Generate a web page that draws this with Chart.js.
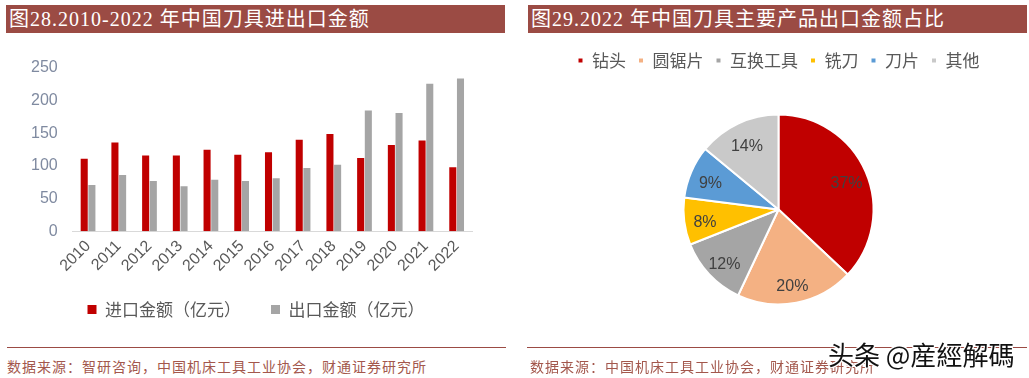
<!DOCTYPE html>
<html>
<head>
<meta charset="utf-8">
<script src="https://cdn.jsdelivr.net/npm/chart.js@4.4.0/dist/chart.umd.min.js"></script>
<style>
    body { margin: 0; background: #fff; width: 1029px; height: 378px; overflow: hidden; position: relative; }
    .title {
        position: absolute; top: 5px; height: 28px; line-height: 28px;
        background: #9B4B44; color: #fff; padding-left: 3px;
        font-family: "Liberation Serif", "Noto Sans CJK SC", serif; font-size: 20px; letter-spacing: 1px;
        box-sizing: border-box; white-space: nowrap;
    }
    .rule { position: absolute; top: 347px; height: 1px; background: #9B4B44; }
    .source {
        position: absolute; top: 356px; font-size: 14px; letter-spacing: 1px; color: #A3574C;
        font-family: "Noto Sans CJK SC", sans-serif; white-space: nowrap;
    }
    canvas { position: absolute; }
    .mark {
        position: absolute; left: 828px; top: 335px; font-size: 26px; color: #111;
        font-family: "Noto Sans CJK TC", "Noto Sans CJK SC", sans-serif; white-space: nowrap;
        text-shadow: -1px -1px 0 #fff, 1px -1px 0 #fff, -1px 1px 0 #fff, 1px 1px 0 #fff;
    }
</style>
</head>
<body>
<div class="title" style="left:6px; width:499px;">图28.2010-2022 年中国刀具进出口金额</div>
<div class="title" style="left:528px; width:499px;">图29.2022 年中国刀具主要产品出口金额占比</div>
<canvas id="bar" width="510" height="310" style="left:0; top:36px;"></canvas>
<canvas id="pie" width="509" height="310" style="left:520px; top:36px;"></canvas>
<div class="rule" style="left:7px; width:499px;"></div>
<div class="rule" style="left:527px; width:500px;"></div>
<div class="source" style="left:7px;">数据来源：智研咨询，中国机床工具工业协会，财通证券研究所</div>
<div class="source" style="left:530px;">数据来源：中国机床工具工业协会，财通证券研究所</div>
<div class="mark">头条 @産經解碼</div>

<script>
// left chart: import / export value, 亿元
const years = ['2010', '2011', '2012', '2013', '2014', '2015', '2016', '2017', '2018', '2019', '2020', '2021', '2022'];
const importValues = [111, 136, 116, 116, 125, 117, 121, 140, 149, 112, 132, 139, 98];
const exportValues = [71, 86, 77, 69, 79, 77, 81, 97, 102, 185, 181, 226, 234];
const yTicks = [0, 50, 100, 150, 200, 250];

// right chart: 2022 export share by product
const products = ['钻头', '圆锯片', '互换工具', '铣刀', '刀片', '其他'];
const shares = [37, 20, 12, 8, 9, 14];
const pieColors = ['#C00000', '#F4B183', '#A5A5A5', '#FFC000', '#5B9BD5', '#C9C9C9'];

const latin = '"Liberation Sans", Arial, sans-serif';
const cjk = '"Noto Sans CJK SC", sans-serif';

// wide item gap also makes the legend tall; pull it back up and a bit right
const nudgeLegend = {
    id: 'nudgeLegend',
    afterLayout(chart) {
        const lg = chart.legend;
        lg.left += 12;
        lg.right += 12;
        lg.top -= 10;
        lg.bottom -= 10;
    }
};

new Chart(document.getElementById('bar'), {
    type: 'bar',
    data: {
        labels: years,
        datasets: [
            { label: '进口金额（亿元）', data: importValues, backgroundColor: '#C00000' },
            { label: '出口金额（亿元）', data: exportValues, backgroundColor: '#A5A5A5' }
        ]
    },
    options: {
        responsive: false,
        animation: false,
        categoryPercentage: 0.5,
        barPercentage: 0.92,
        layout: { padding: { top: 32, left: 16, right: 38, bottom: 8 } },
        plugins: {
            tooltip: { enabled: false },
            legend: {
                position: 'bottom',
                labels: { boxWidth: 9, boxHeight: 9, padding: 30, color: '#595959', font: { family: cjk, size: 17 } }
            }
        },
        scales: {
            x: {
                grid: { display: false, drawTicks: false },
                border: { color: '#D9D9D9', width: 1 },
                ticks: { maxRotation: 45, minRotation: 45, autoSkip: false, padding: 5.5, color: '#595959', font: { family: latin, size: 16 } }
            },
            y: {
                min: 0, max: 250,
                afterBuildTicks: (axis) => { axis.ticks = yTicks.map(v => ({ value: v })); },
                grid: { display: false, drawTicks: false },
                border: { display: false },
                ticks: { padding: 15, color: '#7F8AA0', font: { family: latin, size: 16 } }
            }
        }
    },
    plugins: [nudgeLegend]
});

const pieLabels = {
    id: 'pieLabels',
    afterDatasetsDraw(chart) {
        const ctx = chart.ctx;
        const meta = chart.getDatasetMeta(0);
        ctx.save();
        ctx.font = '16px ' + latin;
        ctx.fillStyle = '#404040';
        ctx.textAlign = 'center';
        ctx.textBaseline = 'middle';
        meta.data.forEach((arc, i) => {
            const { x, y, startAngle, endAngle, outerRadius } = arc.getProps(['x', 'y', 'startAngle', 'endAngle', 'outerRadius'], true);
            const mid = (startAngle + endAngle) / 2;
            const r = outerRadius * 0.78;
            ctx.fillText(shares[i] + '%', x + Math.cos(mid) * r, y + Math.sin(mid) * r + 4);
        });
        ctx.restore();
    }
};

new Chart(document.getElementById('pie'), {
    type: 'pie',
    data: {
        labels: products,
        datasets: [{ data: shares, backgroundColor: pieColors, borderColor: '#fff', borderWidth: 2 }]
    },
    options: {
        responsive: false,
        animation: false,
        radius: 95,
        layout: { padding: { top: 4, left: 8, right: 0, bottom: 6 } },
        plugins: {
            tooltip: { enabled: false },
            legend: {
                position: 'top',
                labels: { boxWidth: 6, boxHeight: 6, padding: 12, color: '#595959', font: { family: cjk, size: 17 } }
            }
        }
    },
    plugins: [pieLabels]
});
</script>
</body>
</html>
